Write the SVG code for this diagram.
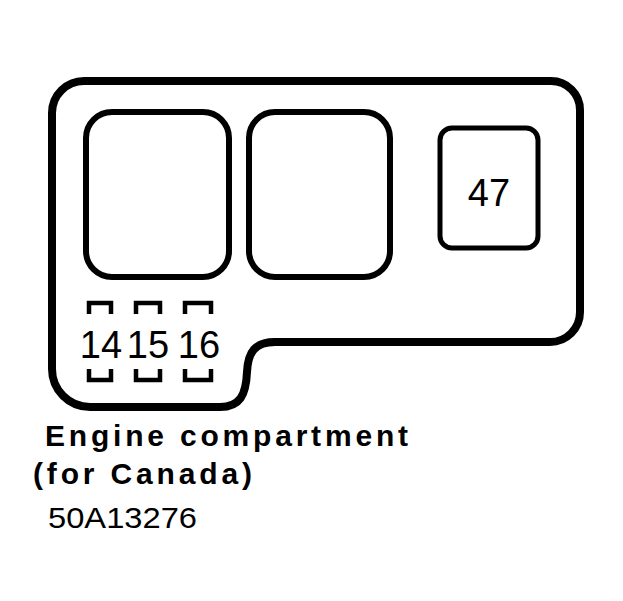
<svg xmlns="http://www.w3.org/2000/svg" width="623" height="601" viewBox="0 0 623 601">
<style>
.outer{fill:none;stroke:#000;stroke-width:8}
.relay{fill:none;stroke:#000;stroke-width:6}
.fuse{fill:none;stroke:#000;stroke-width:5}
.brk{fill:none;stroke:#000;stroke-width:4.5}
.num{font-family:"Liberation Sans",Arial,sans-serif;font-size:38px;fill:#000;text-anchor:middle}
.cap{font-family:"Liberation Sans",Arial,sans-serif;font-size:30px;fill:#000}
</style>
<rect width="623" height="601" fill="#fff"/>
<g id="box">
<path class="outer" d="M 84,81 H 551 A 29 29 0 0 1 580,110 V 312 A 30 30 0 0 1 550,342 H 275 C 255,342 248,352 247,372 C 246,395 240,407 220,407 H 90 A 38 38 0 0 1 52,369 V 113 A 32 32 0 0 1 84,81 Z"/>
</g>
<g id="relay1"><rect class="relay" x="86" y="112" width="143" height="165" rx="26"/></g>
<g id="relay2"><rect class="relay" x="249" y="112" width="141" height="165" rx="26"/></g>
<g id="fuse47">
<rect class="fuse" x="440" y="128" width="98" height="120" rx="12"/>
<text class="num" x="489" y="206">47</text>
</g>
<g id="fuse14">
<path class="brk" d="M 89,314 V 303 H 111 V 314 M 89,369 V 380 H 111 V 369"/>
<text class="num" x="101" y="358">14</text>
</g>
<g id="fuse15">
<path class="brk" d="M 136,314 V 303 H 160 V 314 M 136,369 V 380 H 160 V 369"/>
<text class="num" x="148" y="358">15</text>
</g>
<g id="fuse16">
<path class="brk" d="M 185,314 V 303 H 211 V 314 M 185,369 V 380 H 211 V 369"/>
<text class="num" x="199" y="358">16</text>
</g>
<g id="connectors"/>
<g id="caption">
<text class="cap" x="45" y="446" font-weight="bold" textLength="363" lengthAdjust="spacing">Engine compartment</text>
<text class="cap" x="33" y="484" font-weight="bold" textLength="219" lengthAdjust="spacing">(for Canada)</text>
<text class="cap" x="48" y="528" font-size="29" textLength="149" lengthAdjust="spacingAndGlyphs">50A13276</text>
</g>
</svg>
